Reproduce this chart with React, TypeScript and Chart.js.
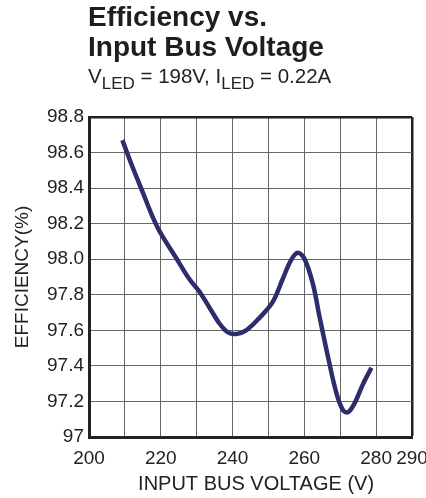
import React, { useEffect, useRef } from "react";
import { Chart, registerables } from "chart.js";

Chart.register(...registerables);

const voltage = [209.3, 212.1, 214.9, 217.7, 220, 224.2, 227.9, 230.7, 233.5, 236.3, 238.6, 241, 243.8, 247.5, 251.2, 254, 256.3, 258.2, 260.1, 262.4, 264.2, 266.6, 268.9, 270.8, 272.2, 274, 276.4, 278.7];
const efficiency = [98.67, 98.52, 98.38, 98.24, 98.145, 98.01, 97.89, 97.82, 97.73, 97.64, 97.59, 97.58, 97.6, 97.67, 97.76, 97.89, 97.995, 98.036, 98.0, 97.86, 97.68, 97.45, 97.25, 97.15, 97.14, 97.19, 97.3, 97.39];
const xTickLabels = [200, 220, 240, 260, 280, 290];
const yMin = 97;
const yMax = 98.8;
const xMin = 200;
const xMax = 290;

const FONT = '"Liberation Sans", Arial, Helvetica, sans-serif';

export default function App() {
  const ref = useRef<HTMLCanvasElement | null>(null);

  useEffect(() => {
    document.body.style.margin = "0";
    const canvas = ref.current!;
    const data = voltage.map((v, i) => ({ x: v, y: efficiency[i] }));
    const chart = new Chart(canvas, {
      type: "line",
      data: {
        datasets: [
          {
            data,
            borderColor: "#2c2d6a",
            borderWidth: 4.5,
            pointRadius: 0,
            tension: 0.35,
            fill: false,
          },
        ],
      },
      options: {
        animation: false,
        responsive: false,
        devicePixelRatio: 1,
        layout: { padding: { top: 117, right: 14, bottom: 0, left: 0 } },
        plugins: { legend: { display: false }, tooltip: { enabled: false } },
        scales: {
          x: {
            type: "linear",
            min: xMin,
            max: xMax,
            afterFit: (s: any) => {
              s.height = 61;
              s.paddingLeft = 0;
              s.paddingRight = 0;
            },
            ticks: {
              stepSize: 10,
              autoSkip: false,
              maxRotation: 0,
              padding: 10,
              color: "#222",
              font: { family: FONT, size: 19 },
              callback: (v: any) => (xTickLabels.includes(Math.round(Number(v))) ? String(Math.round(Number(v))) : ""),
            },
            grid: {
              drawTicks: false,
              color: (c: any) => (c.tick && Math.round(c.tick.value) === xMax ? "#222" : "#666"),
              lineWidth: (c: any) => (c.tick && Math.round(c.tick.value) === xMax ? 2.5 : 1),
            },
            border: { color: "#222", width: 3 },
            title: {
              display: true,
              text: "  INPUT BUS VOLTAGE (V)",
              color: "#222",
              font: { family: FONT, size: 20 },
              padding: { top: 0, bottom: 2 },
            },
          },
          y: {
            type: "linear",
            min: yMin,
            max: yMax,
            afterFit: (s: any) => {
              s.width = 89;
              s.paddingTop = 0;
              s.paddingBottom = 0;
            },
            ticks: {
              stepSize: 0.2,
              autoSkip: false,
              padding: 5,
              color: "#222",
              font: { family: FONT, size: 19 },
              callback: (v: any) => {
                const n = Number(v);
                return Math.abs(n - 97) < 1e-6 ? "97" : n.toFixed(1);
              },
            },
            grid: {
              drawTicks: false,
              color: (c: any) => (c.tick && Math.abs(c.tick.value - yMax) < 1e-6 ? "#222" : "#666"),
              lineWidth: (c: any) => (c.tick && Math.abs(c.tick.value - yMax) < 1e-6 ? 2.5 : 1),
            },
            border: { color: "#222", width: 3 },
            title: {
              display: true,
              text: "EFFICIENCY(%)",
              color: "#222",
              font: { family: FONT, size: 19 },
              padding: { top: 11, bottom: 0 },
            },
          },
        },
      },
    });
    return () => chart.destroy();
  }, []);

  return (
    <div style={{ position: "fixed", left: 0, top: 0, width: 426, height: 498, background: "#fff", fontFamily: FONT, color: "#222" }}>
      <canvas ref={ref} width={426} height={498} style={{ position: "absolute", left: 0, top: 0 }} />
      <div style={{ position: "absolute", left: 88, top: 2, fontWeight: "bold", fontSize: 28, lineHeight: "30px", whiteSpace: "nowrap", color: "#1e1e1e" }}>
        <div>Efficiency vs.</div>
        <div>Input Bus Voltage</div>
      </div>
      <div style={{ position: "absolute", left: 88, top: 66, fontSize: 20.5, lineHeight: "20px", whiteSpace: "nowrap" }}>
        V<span style={{ fontSize: 17, position: "relative", top: 6 }}>LED</span> = 198V, I<span style={{ fontSize: 17, position: "relative", top: 6 }}>LED</span> = 0.22A
      </div>
    </div>
  );
}
